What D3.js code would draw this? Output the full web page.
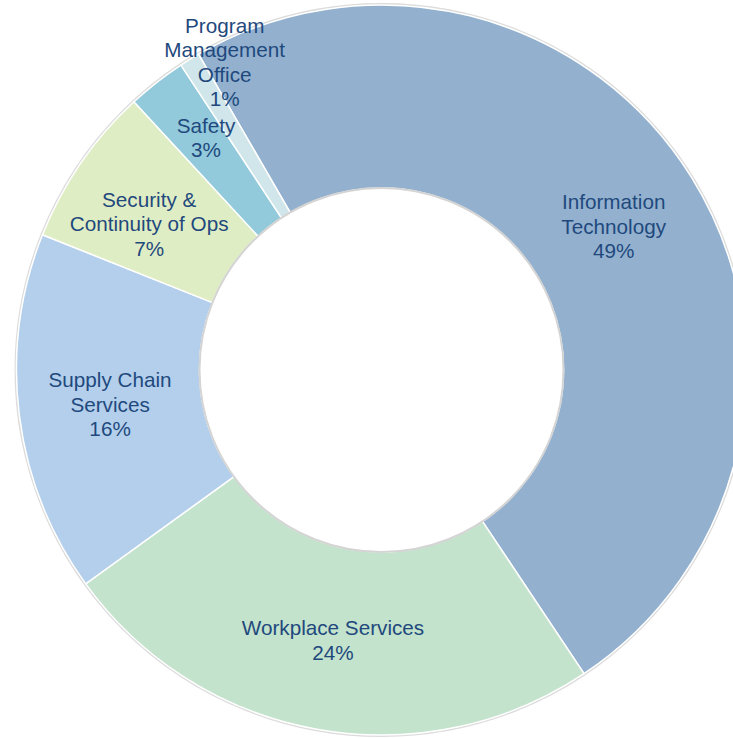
<!DOCTYPE html>
<html>
<head>
<meta charset="utf-8">
<script src="https://cdn.jsdelivr.net/npm/d3@7"></script>
<style>
  body { margin: 0; background: #ffffff; }
  svg { display: block; }
</style>
</head>
<body>
<svg id="donut" width="733" height="738"></svg>
<script>
// slice names (each entry is one label line) and shares in percent, clockwise from the top
var categories = [
    ["Information", "Technology"],
    ["Workplace Services"],
    ["Supply Chain", "Services"],
    ["Security &", "Continuity of Ops"],
    ["Safety"],
    ["Program", "Management", "Office"]
];
var shares = [49.0, 24.4, 16.0, 7.1, 2.6, 0.9];
var sliceColors = ["#93b1cf", "#c3e3cc", "#b3cfec", "#dfedc4", "#92cadb", "#d0e6ea"];

// layout
var cx = 381.5, cy = 370;
var outerR = 365, innerR = 182;
var startDeg = -30.1;
var fontsize = 20.7;
var lineGap = 24.5;
// small slices get their label pushed away from the centroid, like the original
var labelShift = [[0,1],[0,1],[0,1],[-7,9],[-7,-17],[-13,-75]];

function makeTable(){
    let rows = [];
    for(let i=0; i<shares.length; i++){
        rows.push({lines: categories[i], value: shares[i], color: sliceColors[i], idx: i});
    }
    return rows;
}

function drawDonut(svgid){
    let svg = d3.select("svg" + svgid);
    let rows = makeTable();

    let pie = d3.pie()
                .sort(null)
                .value(function(d){ return d.value; })
                .startAngle(startDeg * Math.PI / 180)
                .endAngle((startDeg + 360) * Math.PI / 180);

    let arc = d3.arc()
                .innerRadius(innerR)
                .outerRadius(outerR);

    let g = svg.append("g")
                .attr("transform","translate(" + cx + "," + cy + ")");

//#region rim shading
    g.append("circle")
        .attr("r", outerR + 1)
        .attr("fill","none")
        .attr("stroke","#dcdcdc")
        .attr("stroke-width",2);
//#endregion

//#region slices
    g.selectAll("path.slice")
        .data(pie(rows))
        .join("path")
        .attr("class","slice")
        .attr("d",arc)
        .attr("fill",function(d,i){
            return d.data.color;
        })
        .attr("stroke","#ffffff")
        .attr("stroke-width",1.5);

    g.append("circle")
        .attr("r", innerR)
        .attr("fill","#ffffff")
        .attr("stroke","#d4d4d4")
        .attr("stroke-width",2);
//#endregion

//#region labels
    let labels = g.selectAll("text.lbl")
        .data(pie(rows))
        .join("text")
        .attr("class","lbl")
        .attr("font-family","'Liberation Sans', Arial, sans-serif")
        .attr("font-size",fontsize)
        .attr("fill","#1f497d")
        .style("text-anchor","middle")
        .attr("transform",function(d,i){
            let c = arc.centroid(d);
            let s = labelShift[d.data.idx];
            return "translate(" + (c[0] + s[0]) + "," + (c[1] + s[1]) + ")";
        });

    labels.each(function(d){
        let lines = d.data.lines.concat([Math.round(d.data.value) + "%"]);
        let top = -(lines.length - 1) * lineGap / 2 + fontsize * 0.35;
        d3.select(this).selectAll("tspan")
            .data(lines)
            .join("tspan")
            .attr("x",0)
            .attr("y",function(t,j){
                return top + j * lineGap;
            })
            .text(function(t){ return t; });
    });
//#endregion
}

drawDonut("#donut");
</script>
</body>
</html>
